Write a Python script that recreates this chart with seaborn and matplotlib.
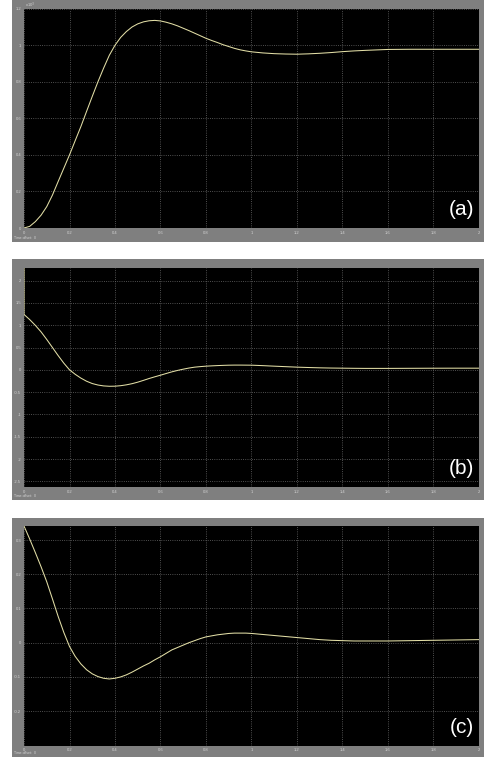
import numpy as np
import pandas as pd
import matplotlib
matplotlib.use("Agg")
import matplotlib.pyplot as plt
from matplotlib.patches import Rectangle
import seaborn as sns

# sample times (s) and values
time = [0, 0.025, 0.05, 0.075, 0.1, 0.125, 0.15, 0.175, 0.2, 0.225,
        0.25, 0.275, 0.3, 0.325, 0.35, 0.375, 0.4, 0.425, 0.45, 0.475,
        0.5, 0.525, 0.55, 0.575, 0.6, 0.625, 0.65, 0.675, 0.7, 0.725,
        0.75, 0.775, 0.8, 0.825, 0.85, 0.875, 0.9, 0.925, 0.95, 0.975,
        1.0, 1.05, 1.1, 1.15, 1.2, 1.25, 1.3, 1.35, 1.4, 1.45,
        1.5, 1.6, 1.7, 1.8, 1.9, 2.0]

trace_a = [0, 0.009, 0.035, 0.07, 0.117, 0.18, 0.254, 0.327, 0.40, 0.478,
           0.555, 0.638, 0.72, 0.80, 0.875, 0.945, 1.0, 1.043, 1.075, 1.10,
           1.117, 1.128, 1.134, 1.136, 1.133, 1.126, 1.117, 1.106, 1.093, 1.08,
           1.066, 1.052, 1.038, 1.026, 1.015, 1.003, 0.993, 0.983, 0.975, 0.969,
           0.964, 0.958, 0.954, 0.952, 0.951, 0.953, 0.956, 0.96, 0.965, 0.969,
           0.972, 0.977, 0.978, 0.978, 0.978, 0.978]

b_spike = 2.4  # initial jump at t=0, runs off the top of the scope
trace_b = [1.24, 1.125, 0.995, 0.85, 0.68, 0.50, 0.32, 0.15, 0.0, -0.1,
           -0.185, -0.255, -0.307, -0.34, -0.36, -0.368, -0.366, -0.355, -0.336, -0.31,
           -0.276, -0.236, -0.194, -0.156, -0.12, -0.082, -0.045, -0.013, 0.015, 0.04,
           0.06, 0.072, 0.082, 0.089, 0.095, 0.1, 0.104, 0.106, 0.106, 0.105,
           0.104, 0.094, 0.082, 0.071, 0.06, 0.052, 0.045, 0.04, 0.037, 0.034,
           0.032, 0.032, 0.034, 0.036, 0.037, 0.037]

trace_c = [0.341, 0.303, 0.263, 0.222, 0.178, 0.128, 0.077, 0.03, -0.011, -0.04,
           -0.062, -0.079, -0.091, -0.099, -0.104, -0.106, -0.104, -0.1, -0.094, -0.086,
           -0.077, -0.068, -0.06, -0.05, -0.041, -0.031, -0.021, -0.014, -0.007, 0.0,
           0.006, 0.012, 0.017, 0.02, 0.023, 0.025, 0.027, 0.028, 0.028, 0.028,
           0.027, 0.024, 0.021, 0.018, 0.015, 0.012, 0.009, 0.007, 0.006, 0.005,
           0.005, 0.005, 0.006, 0.007, 0.008, 0.009]

x_ticks = [0, 0.2, 0.4, 0.6, 0.8, 1, 1.2, 1.4, 1.6, 1.8, 2]
x_labels = ["0", "0.2", "0.4", "0.6", "0.8", "1", "1.2", "1.4", "1.6", "1.8", "2"]

a_ticks = [0, 0.2, 0.4, 0.6, 0.8, 1, 1.2]
a_labels = ["0", "0.2", "0.4", "0.6", "0.8", "1", "1.2"]
b_ticks = [-2.5, -2, -1.5, -1, -0.5, 0, 0.5, 1, 1.5, 2]
b_labels = ["-2.5", "-2", "-1.5", "-1", "-0.5", "0", "0.5", "1", "1.5", "2"]
c_ticks = [-0.2, -0.1, 0, 0.1, 0.2, 0.3]
c_labels = ["-0.2", "-0.1", "0", "0.1", "0.2", "0.3"]

sns.set_theme(style="dark")
plt.rcParams["font.family"] = ["Liberation Sans", "DejaVu Sans"]

W, H = 485, 757
fig = plt.figure(figsize=(W / 100, H / 100), dpi=100, facecolor="white")

frame_gray = "#7f7f7f"
text_gray = "#d4d4d4"
line_col = "#e2dea6"


def px_box(x0, y0, x1, y1):
    # pixel box (top-left origin) -> figure fraction rect
    return [x0 / W, 1 - y1 / H, (x1 - x0) / W, (y1 - y0) / H]


panels = [
    dict(frame=(12, 0, 485, 242), axes=(24, 8.7, 479, 228),
         t=time, y=trace_a, ylim=(0, 1.2), ticks=a_ticks, labels=a_labels, tag="(a)"),
    dict(frame=(12, 259, 485, 500), axes=(24, 268, 479, 487.3),
         t=[0] + time, y=[b_spike] + trace_b, ylim=(-2.63, 2.28), ticks=b_ticks, labels=b_labels, tag="(b)"),
    dict(frame=(12, 518, 485, 757), axes=(24, 526, 479, 745.7),
         t=time, y=trace_c, ylim=(-0.301, 0.341), ticks=c_ticks, labels=c_labels, tag="(c)"),
]

for p in panels:
    fx0, fy0, fx1, fy1 = p["frame"]
    r = px_box(fx0, fy0, fx1, fy1)
    fig.patches.append(Rectangle((r[0], r[1]), r[2], r[3], transform=fig.transFigure,
                                 facecolor=frame_gray, edgecolor="none", zorder=-10))

    ax = fig.add_axes(px_box(*p["axes"]))
    ax.set_zorder(1)
    ax.set_facecolor("black")
    df = pd.DataFrame({"t": p["t"], "v": p["y"]})
    sns.lineplot(data=df, x="t", y="v", ax=ax, color=line_col, linewidth=0.75,
                 sort=False, estimator=None)
    ax.set_xlim(0, 2)
    ax.set_ylim(*p["ylim"])
    ax.set_xticks(x_ticks)
    ax.set_xticklabels(x_labels)
    ax.set_yticks(p["ticks"])
    ax.set_yticklabels(p["labels"])
    ax.set_xlabel("")
    ax.set_ylabel("")
    ax.tick_params(axis="both", direction="in", length=2, width=0.5, color="#bbbbbb",
                   labelsize=3, labelcolor=text_gray, pad=2)
    ax.grid(True, color="#6a6a6a", linestyle=":", linewidth=0.6)
    for s in ax.spines.values():
        s.set_visible(False)
    ax.text(0.99, 0.085, p["tag"], transform=ax.transAxes, ha="right", va="center",
            color="white", fontsize=15)

    fig.text((fx0 + 2) / W, 1 - (fy1 - 4) / H, "Time offset:  0", fontsize=2.5,
             color=text_gray, ha="left", va="center")

# exponent label above the first scope
fig.text(25 / W, 1 - 5 / H, "x10$^{3}$", fontsize=3, color=text_gray, ha="left", va="center")

fig.savefig("out.png", dpi=100, facecolor="white")
